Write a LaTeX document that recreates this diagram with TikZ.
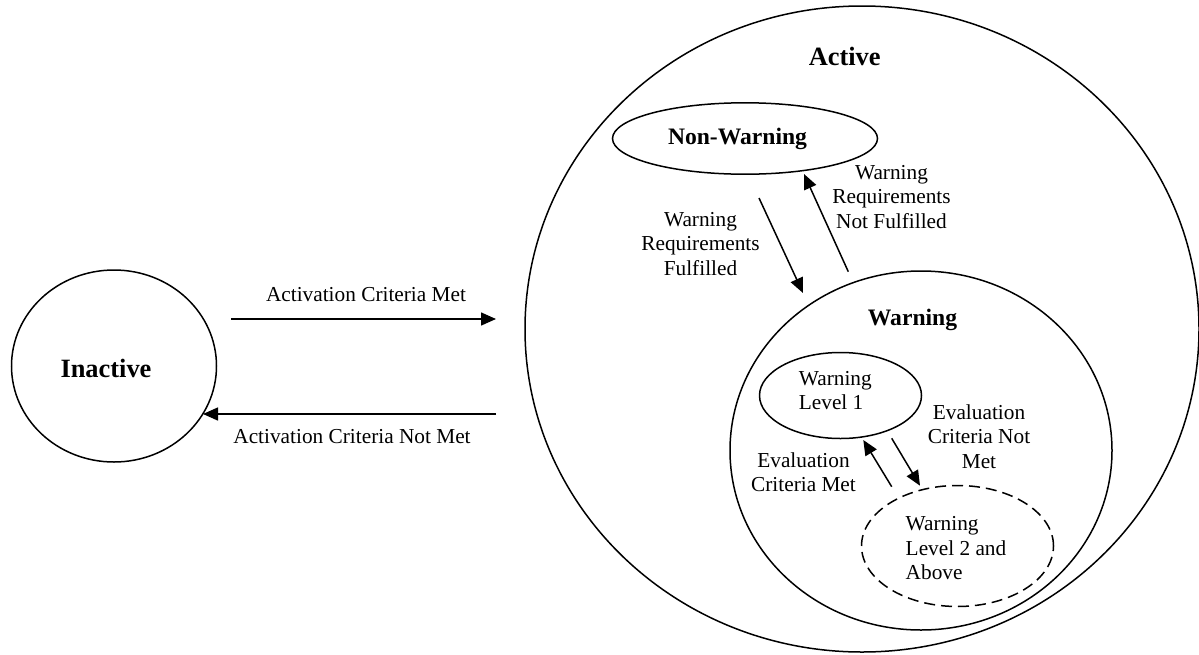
\documentclass[tikz,border=0pt]{standalone}
\usepackage{fontspec}
\setmainfont{Liberation Serif}
\usetikzlibrary{shapes.geometric,arrows.meta}
\begin{document}
\begin{tikzpicture}[x=1pt,y=-1pt,
  state/.style={draw, ellipse, line width=1.5pt, inner sep=0pt, outer sep=0pt},
  lbl/.style={font=\fontsize{21.3}{24.5}\selectfont, align=center, inner sep=0pt},
  lbll/.style={font=\fontsize{21.3}{24.5}\selectfont, align=left, inner sep=0pt},
  ttl/.style={font=\fontsize{26.4}{30}\selectfont\bfseries, inner sep=0pt},
  subttl/.style={font=\fontsize{23.6}{28}\selectfont\bfseries, inner sep=0pt},
  arr/.style={line width=1.5pt, -{Triangle[length=15pt,width=13pt]}}]
\useasboundingbox (0,0) rectangle (1199,654);
% states
\node[state, minimum width=205pt, minimum height=192pt] (inactive) at (114,366) {};
\node[ttl] (inactivet) at (106,368.3) {Inactive};
\node[state, minimum width=674pt, minimum height=646pt] (active) at (862,329) {};
\node[ttl] (activet) at (844.7,56.5) {Active};
\node[state, minimum width=265pt, minimum height=71.4pt] (nonwarn) at (745,138.5) {};
\node[subttl] (nonwarnt) at (737.5,138.8) {Non-Warning};
\node[state, minimum width=382pt, minimum height=359pt] (warn) at (921,450.5) {};
\node[subttl] (warnt) at (912.5,319.5) {Warning};
\node[state, minimum width=162pt, minimum height=86pt] (wl1) at (840.5,395.5) {};
\node[lbll] (wl1t) at (835.3,390.5) {Warning\\Level 1};
\node[state, dash pattern=on 11pt off 6pt, minimum width=192pt, minimum height=121pt] (wl2) at (957.5,546) {};
\node[lbll] (wl2t) at (956,548.3) {Warning\\Level 2 and\\Above};
% connector ends
\coordinate (a1s) at (231,319);
\coordinate (a1e) at (496,319);
\coordinate (a2s) at (496,414);
\coordinate (a2e) at (203,414);
\coordinate (b1s) at (759,198);
\coordinate (b1e) at (803,293);
\coordinate (b2s) at (848.3,271.7);
\coordinate (b2e) at (804,174);
\coordinate (c1s) at (891.7,486.7);
\coordinate (c1e) at (863.3,440);
\coordinate (c2s) at (891.7,438.3);
\coordinate (c2e) at (920,485.7);
% connectors
\draw[arr] (a1s) -- (a1e);
\draw[arr] (a2s) -- (a2e);
\draw[arr] (b1s) -- (b1e);
\draw[arr] (b2s) -- (b2e);
\draw[arr] (c1s) -- (c1e);
\draw[arr] (c2s) -- (c2e);
% labels
\node[lbl] (la1) at (366,294.5) {Activation Criteria Met};
\node[lbl] (la2) at (352,437) {Activation Criteria Not Met};
\node[lbl] (lb1) at (700.5,244) {Warning\\Requirements\\Fulfilled};
\node[lbl] (lb2) at (891.5,196.6) {Warning\\Requirements\\Not Fulfilled};
\node[lbl] (lc1) at (803.5,472.2) {Evaluation\\Criteria Met};
\node[lbl] (lc2) at (979,436.6) {Evaluation\\Criteria Not\\Met};
\end{tikzpicture}
\end{document}
